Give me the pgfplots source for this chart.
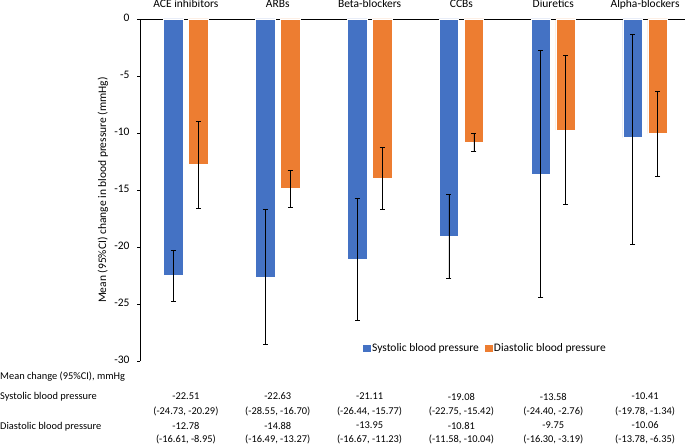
\documentclass[border=0pt]{standalone}
\usepackage{pgfplots}
\pgfplotsset{compat=1.18}
\usepackage{pgfplotstable}
\usepackage{fontspec}
\setmainfont{Carlito}
\definecolor{sbp}{HTML}{4472C4}
\definecolor{dbp}{HTML}{ED7D31}
\newcommand{\lab}{\fontsize{11.5}{13}\selectfont}
\newcommand{\tab}{\fontsize{10.4}{12}\selectfont}

% x positions are category index -/+ 0.136 (bar offset within the group)
\pgfplotstableread{
x y ep em
-0.136 -22.51 2.22 2.22
0.864 -22.63 5.93 5.92
1.864 -21.11 5.34 5.33
2.864 -19.08 3.66 3.67
3.864 -13.58 10.82 10.82
4.864 -10.41 9.07 9.37
}\sys
\pgfplotstableread{
x y ep em
0.136 -12.78 3.83 3.83
1.136 -14.88 1.61 1.61
2.136 -13.95 2.72 2.72
3.136 -10.81 0.77 0.77
4.136 -9.75 6.56 6.55
5.136 -10.06 3.71 3.72
}\dia

\begin{document}
\begin{tikzpicture}[x=1pt,y=1pt]
\path[use as bounding box] (0,0) rectangle (685,-446);
\begin{axis}[
  at={(140pt,-361pt)}, anchor=south west,
  scale only axis, width=551pt, height=342pt,
  xmin=-0.5, xmax=5.5, ymin=-30, ymax=0,
  axis x line=top, axis y line=left,
  axis line style={-, black, line width=0.6pt},
  xtick={0,...,5},
  xticklabels={ACE inhibitors, ARBs, Beta-blockers, CCBs, Diuretics, Alpha-blockers},
  x tick style={draw=none},
  xticklabel style={font=\lab, anchor=base, yshift=8pt},
  typeset ticklabels with strut,
  ytick={-30,-25,...,0},
  yticklabels={-30,-25,-20,-15,-10,-5,0},
  y tick style={black, line width=0.6pt},
  tick align=outside, major tick length=3pt,
  yticklabel style={font=\lab, xshift=-4pt},
  legend style={at={(axis description cs:0.627,0.038)}, anchor=center,
    draw=none, fill=none, legend columns=2, font=\lab,
    /tikz/every even column/.append style={column sep=4pt}},
  legend cell align=left,
  clip=false,
]
\addplot[ybar, bar width=19.5pt, bar shift=0pt, fill=sbp, draw=white, line width=0.5pt, forget plot,
  error bars/.cd, y dir=both, y explicit,
  error bar style={black, line width=0.7pt},
  error mark=-,
  error mark options={rotate=90, black, line width=0.7pt, mark size=2.5pt}]
  table[x=x, y=y, y error plus=ep, y error minus=em] {\sys};
\addplot[ybar, bar width=19.5pt, bar shift=0pt, fill=dbp, draw=white, line width=0.5pt, forget plot,
  error bars/.cd, y dir=both, y explicit,
  error bar style={black, line width=0.7pt},
  error mark=-,
  error mark options={rotate=90, black, line width=0.7pt, mark size=2.5pt}]
  table[x=x, y=y, y error plus=ep, y error minus=em] {\dia};
\addlegendimage{legend image code/.code={\fill[sbp] (0pt,-3.3pt) rectangle (6.6pt,3.3pt);}}
\addlegendentry{Systolic blood pressure}
\addlegendimage{legend image code/.code={\fill[dbp] (0pt,-3.3pt) rectangle (6.6pt,3.3pt);}}
\addlegendentry{Diastolic blood pressure}
\end{axis}

\node[rotate=90, font=\lab] at (103,-190) {Mean (95\%CI) change in blood pressure (mmHg)};

\node[anchor=west, font=\tab, inner sep=0pt] at (0,-377) {Mean change (95\%CI), mmHg};
\node[anchor=west, font=\tab, inner sep=0pt] at (0,-397) {Systolic blood pressure};
\node[anchor=west, font=\tab, inner sep=0pt] at (0,-427) {Diastolic blood pressure};

\foreach \cx/\m/\ci in {185.9/-22.51/{(-24.73, -20.29)}, 277.75/-22.63/{(-28.55, -16.70)}, 369.6/-21.11/{(-26.44, -15.77)}, 461.4/-19.08/{(-22.75, -15.42)}, 553.3/-13.58/{(-24.40, -2.76)}, 645.1/-10.41/{(-19.78, -1.34)}}{
  \node[font=\tab, inner sep=0pt] at (\cx,-396.5) {\m};
  \node[font=\tab, inner sep=0pt] at (\cx,-411.5) {\ci};
}
\foreach \cx/\m/\ci in {185.9/-12.78/{(-16.61, -8.95)}, 277.75/-14.88/{(-16.49, -13.27)}, 369.6/-13.95/{(-16.67, -11.23)}, 461.4/-10.81/{(-11.58, -10.04)}, 553.3/-9.75/{(-16.30, -3.19)}, 645.1/-10.06/{(-13.78, -6.35)}}{
  \node[font=\tab, inner sep=0pt] at (\cx,-425.5) {\m};
  \node[font=\tab, inner sep=0pt] at (\cx,-439.5) {\ci};
}
\end{tikzpicture}
\end{document}
